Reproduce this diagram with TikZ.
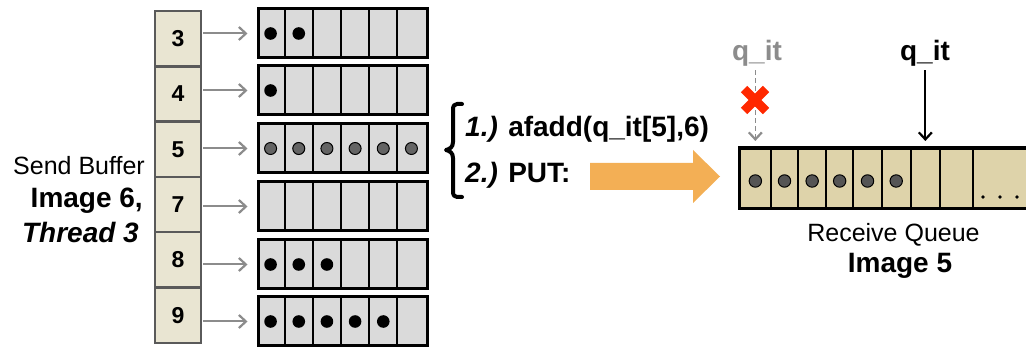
\documentclass[tikz,border=0pt]{standalone}
\usepackage{fontspec}
\setmainfont{Liberation Sans}
\usetikzlibrary{arrows.meta}
\definecolor{coltan}{RGB}{233,229,210}
\definecolor{qtan}{RGB}{222,211,170}
\definecolor{cellgray}{RGB}{218,218,218}
\definecolor{orangeA}{RGB}{243,175,85}
\definecolor{xred}{RGB}{255,40,0}
\definecolor{lblgray}{RGB}{140,140,140}
\definecolor{colborder}{RGB}{90,90,90}
\definecolor{qdot}{RGB}{85,85,85}
\definecolor{sdot}{RGB}{100,100,100}
\begin{document}
\begin{tikzpicture}[x=1pt,y=-1pt,
  colcell/.style={draw=colborder, line width=2.5pt, fill=coltan, minimum width=46pt, minimum height=55.3pt, inner sep=0pt, font=\fontsize{23}{25}\selectfont\bfseries},
  bufrow/.style={draw=black, line width=3pt, fill=cellgray, minimum width=169pt, minimum height=49pt, inner sep=0pt},
  qcell/.style={draw=black, line width=2pt, fill=qtan, minimum height=59pt, inner sep=0pt},
  garrow/.style={draw=lblgray, line width=2pt, -{Straight Barb[length=7pt,width=13pt,line width=2.2pt]}},
  barrow/.style={draw=black, line width=2pt, -{Straight Barb[length=7pt,width=13pt,line width=2.2pt]}},
  bigbold/.style={font=\fontsize{28}{30}\selectfont\bfseries, inner sep=0pt},
  regtext/.style={font=\fontsize{25}{27}\selectfont, inner sep=0pt}
]
\useasboundingbox (0,0) rectangle (1026,347);

% left column
\foreach \n/\i in {3/0,4/1,5/2,7/3,8/4,9/5}{
  \node[colcell] (c\n) at (178,{11+55.3*(\i+0.5)}) {\n};
}
% buffer rows
\foreach \n/\yc in {3/33.5,4/90.5,5/148.5,7/206.5,8/264.5,9/321.5}{
  \node[bufrow] (r\n) at (342.5,\yc) {};
  \foreach \k in {1,...,5}{
    \draw[line width=2pt] ([xshift={\k*28.17pt}]r\n.north west) -- ([xshift={\k*28.17pt}]r\n.south west);
  }
  \draw[garrow, shorten <=1pt, shorten >=9pt] (c\n.east |- r\n.west) -- (r\n.west);
}
% dots
\foreach \n/\m in {3/2,4/1,8/3,9/5}{
  \foreach \k in {1,...,\m}{
    \fill[black] ([xshift={(\k-0.5)*28.17pt}]r\n.west) circle (6.3pt);
  }
}
\foreach \k in {1,...,6}{
  \filldraw[fill=sdot, draw=black, line width=1pt] ([xshift={(\k-0.5)*28.17pt}]r5.west) circle (6pt);
}

% left labels
\node[regtext, anchor=base east] (sb) at (145,175) {Send Buffer};
\node[bigbold, anchor=base east] (im6) at (143,208) {Image 6,};
\node[bigbold, anchor=base east] (th3) at (139,243) {\textit{Thread 3}};

% brace
\draw[line width=4pt, line cap=round, line join=round]
  (462,104) -- (457,104) .. controls (454,104) and (453,106) .. (453,110) -- (453,142)
  .. controls (453,147) and (450,149) .. (446,150)
  .. controls (450,151) and (453,153) .. (453,158) -- (453,191)
  .. controls (453,195) and (454,197) .. (457,197) -- (462,197);

% steps
\node[bigbold, anchor=base west] (s1) at (465,137) {\textit{1.)} afadd(q\_it[5],6)};
\node[bigbold, anchor=base west] (s2) at (465,183) {\textit{2.)} PUT:};

% orange arrow
\fill[orangeA] (590,163) -- (693,163) -- (693,150) -- (720,176.5) -- (693,203) -- (693,190) -- (590,190) -- cycle;

% receive queue
\foreach \k/\a/\b in {1/740/770.7,2/770.7/798.3,3/798.3/826,4/826/853.3,5/853.3/881.7,6/881.7/910.7,7/910.7/940,8/940/973.3,9/973.3/1030}{
  \node[qcell, minimum width={(\b-\a)*1pt}] (q\k) at ({(\a+\b)/2},178.5) {};
}
\draw[line width=3pt, line join=miter] (q9.north east) -- (q1.north west) -- (q1.south west) -- (q9.south east);
\foreach \k in {1,...,6}{
  \filldraw[fill=qdot, draw=black, line width=1pt] ([yshift=-2.5pt]q\k.center) circle (6.2pt);
}
\foreach \x in {983,1000,1017}{
  \fill[black] (\x,197) circle (1.8pt);
}

% q_it labels
\node[bigbold, text=lblgray, anchor=base] (gq) at (757,61) {q\_it};
\node[bigbold, anchor=base] (bq) at (925,61) {q\_it};
\draw[garrow, line width=1.6pt, dash pattern=on 5pt off 3pt, shorten <=3pt, shorten >=7pt] (gq.south -| q1.north) -- (q1.north);
\draw[barrow, shorten <=3pt, shorten >=7pt] (bq.south -| q7.north) -- (q7.north);

% red cross
\coordinate (xm) at (755,100);
\draw[xred, line width=9pt] ([shift={(-11,-11)}]xm) -- ([shift={(11,11)}]xm);
\draw[xred, line width=9pt] ([shift={(-11,11)}]xm) -- ([shift={(11,-11)}]xm);

% receive labels
\node[regtext, anchor=base] (rq) at (893.5,242) {Receive Queue};
\node[bigbold, anchor=base] (im5) at (900,273) {Image 5};
\end{tikzpicture}
\end{document}
